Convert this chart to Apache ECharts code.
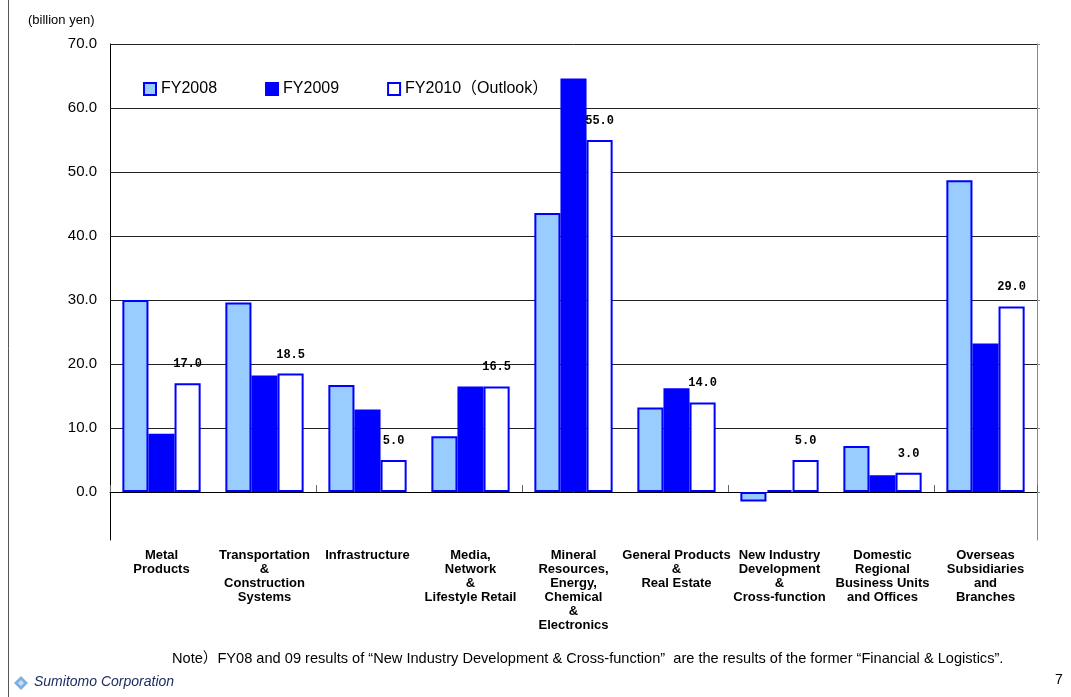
<!DOCTYPE html>
<html>
<head>
<meta charset="utf-8">
<script src="https://cdn.jsdelivr.net/npm/echarts@6/dist/echarts.min.js"></script>
<style>
  html, body { margin: 0; padding: 0; background: #fff; }
  #chart { width: 1071px; height: 697px; }
</style>
</head>
<body>
<div id="chart"></div>
<script>
// Segment profit by business unit (billion yen)
const categories = [
  'Metal\nProducts',
  'Transportation\n&\nConstruction\nSystems',
  'Infrastructure',
  'Media,\nNetwork\n&\nLifestyle Retail',
  'Mineral\nResources,\nEnergy,\nChemical\n&\nElectronics',
  'General Products\n&\nReal Estate',
  'New Industry\nDevelopment\n&\nCross-function',
  'Domestic\nRegional\nBusiness Units\nand Offices',
  'Overseas\nSubsidiaries\nand\nBranches'
];
const fy2008 = [30.0, 29.6, 16.7, 8.7, 43.6, 13.2, -1.5, 7.2, 48.7];
const fy2009 = [9.1, 18.2, 12.9, 16.5, 64.6, 16.2, 0.3, 2.6, 23.2];
const fy2010 = [17.0, 18.5, 5.0, 16.5, 55.0, 14.0, 5.0, 3.0, 29.0];
const yTicks = [0, 10, 20, 30, 40, 50, 60, 70];
const seriesNames = ['FY2008', 'FY2009', 'FY2010（Outlook）'];

const BLUE = '#0000ff';
const LIGHT = '#99ccff';
const FONT = '"Liberation Sans", Arial, "Noto Sans CJK JP", sans-serif';

const chart = echarts.init(document.getElementById('chart'), null, { renderer: 'canvas' });

const barBase = {
  type: 'bar',
  xAxisIndex: 0,
  yAxisIndex: 0,
  barGap: '0%',
  barCategoryGap: '24%',
  z: 2
};

chart.setOption({
  animation: false,
  backgroundColor: '#ffffff',
  textStyle: { fontFamily: FONT },
  grid: { left: 110, right: 34, top: 44, bottom: 157, containLabel: false },
  legend: {
    left: 138,
    top: 76,
    itemWidth: 12,
    itemHeight: 12,
    itemGap: 48,
    icon: 'rect',
    textStyle: { fontSize: 16, color: '#000', fontFamily: FONT },
    data: seriesNames
  },
  xAxis: [
    {
      // zero line with group separators
      type: 'category',
      data: categories,
      position: 'bottom',
      axisLine: { onZero: true, lineStyle: { color: '#000', width: 1 } },
      axisTick: { show: true, inside: true, length: 7, lineStyle: { color: '#666' } },
      axisLabel: { show: false },
      splitLine: { show: false }
    },
    {
      // category names along the bottom of the plot
      type: 'category',
      data: categories,
      position: 'bottom',
      axisLine: { show: false, onZero: false },
      axisTick: { show: false },
      axisLabel: {
        show: true,
        interval: 0,
        margin: 8,
        fontSize: 13,
        fontWeight: 'bold',
        lineHeight: 14,
        color: '#000',
        align: 'center',
        fontFamily: FONT
      },
      splitLine: { show: false }
    }
  ],
  yAxis: [
    {
      type: 'value',
      position: 'left',
      min: -7.5,
      max: 70,
      axisLine: { show: true, onZero: false, lineStyle: { color: '#000', width: 1 } },
      axisTick: { show: false },
      splitLine: { show: false },
      axisLabel: {
        customValues: yTicks,
        formatter: v => v.toFixed(1),
        fontSize: 15,
        color: '#000',
        margin: 13,
        fontFamily: FONT
      }
    },
    {
      type: 'value',
      position: 'right',
      min: -7.5,
      max: 70,
      axisLine: { show: true, onZero: false, lineStyle: { color: '#888', width: 1 } },
      axisTick: { show: true, customValues: yTicks, length: 3, lineStyle: { color: '#888' } },
      axisLabel: { show: false },
      splitLine: { show: false }
    }
  ],
  series: [
    Object.assign({}, barBase, {
      name: seriesNames[0],
      data: fy2008,
      itemStyle: { color: LIGHT, borderColor: BLUE, borderWidth: 2 },
      markLine: {
        silent: true,
        z: 1,
        symbol: ['none', 'none'],
        label: { show: false },
        lineStyle: { color: '#222', type: 'solid', width: 1 },
        data: yTicks.filter(v => v > 0).map(v => ({ yAxis: v }))
      }
    }),
    Object.assign({}, barBase, {
      name: seriesNames[1],
      data: fy2009,
      itemStyle: { color: BLUE, borderColor: BLUE, borderWidth: 2 }
    }),
    Object.assign({}, barBase, {
      name: seriesNames[2],
      data: fy2010,
      itemStyle: { color: '#ffffff', borderColor: BLUE, borderWidth: 2 },
      label: {
        show: true,
        position: 'top',
        distance: 13,
        formatter: p => p.value.toFixed(1),
        fontFamily: '"Liberation Mono", "DejaVu Sans Mono", monospace',
        fontWeight: 'bold',
        fontSize: 12,
        color: '#000'
      }
    })
  ],
  graphic: [
    {
      type: 'line',
      shape: { x1: 8.5, y1: 0, x2: 8.5, y2: 697 },
      style: { stroke: '#555', lineWidth: 1 },
      silent: true
    },
    {
      type: 'text',
      left: 28,
      top: 14,
      style: { text: '(billion yen)', font: '13px ' + FONT, fill: '#000' }
    },
    {
      type: 'text',
      left: 172,
      top: 652,
      style: {
        text: 'Note）FY08 and 09 results of “New Industry Development & Cross-function”  are the results of the former “Financial & Logistics”.',
        font: '14.6px "Liberation Sans", "Noto Sans CJK JP", sans-serif',
        fill: '#000'
      }
    },
    {
      type: 'polygon',
      shape: { points: [[21, 676], [28, 683], [21, 690], [14, 683]] },
      style: { fill: '#7fb0e0' },
      silent: true
    },
    {
      type: 'polygon',
      shape: { points: [[21, 680], [24, 683], [21, 686], [18, 683]] },
      style: { fill: '#c9def3' },
      silent: true
    },
    {
      type: 'text',
      left: 34,
      top: 675,
      style: {
        text: 'Sumitomo Corporation',
        font: 'italic 14px "Liberation Sans", sans-serif',
        fill: '#1c2a5e'
      }
    },
    {
      type: 'text',
      left: 1055,
      top: 673,
      style: { text: '7', font: '14px ' + FONT, fill: '#000' }
    }
  ]
});
</script>
</body>
</html>
